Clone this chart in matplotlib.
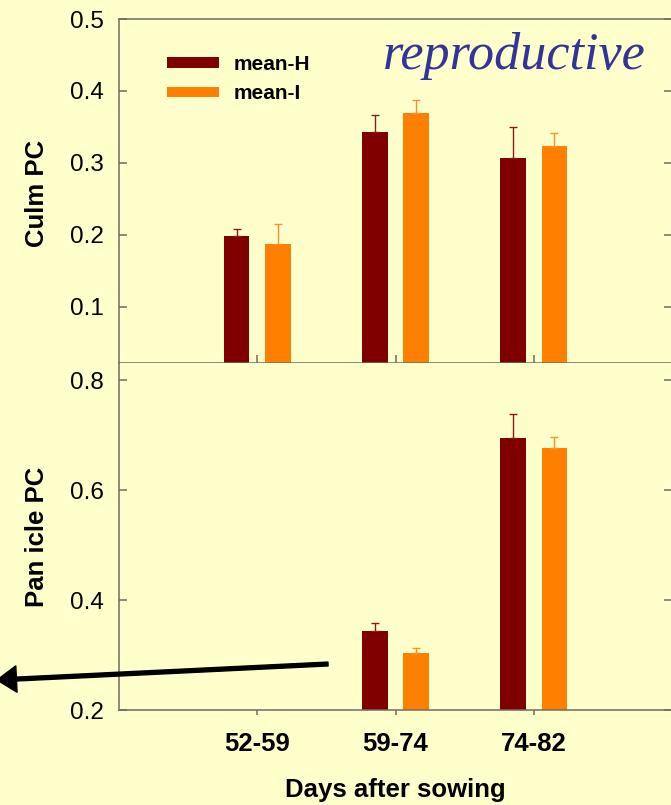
import numpy as np
import matplotlib
matplotlib.use("Agg")
import matplotlib.pyplot as plt

categories = ["52-59", "59-74", "74-82"]
series_names = ["mean-H", "mean-I"]
culm_H = [0.198, 0.343, 0.307]
culm_I = [0.187, 0.370, 0.323]
culm_H_err = [0.010, 0.024, 0.043]
culm_I_err = [0.028, 0.017, 0.018]
pan_H = [np.nan, 0.343, 0.694]
pan_I = [np.nan, 0.303, 0.677]
pan_H_err = [np.nan, 0.015, 0.044]
pan_I_err = [np.nan, 0.009, 0.019]
culm_ticks = [0.1, 0.2, 0.3, 0.4, 0.5]
pan_ticks = [0.2, 0.4, 0.6, 0.8]

BG = "#FFFFCC"
C_H = "#800000"
C_I = "#FF8000"
SPINE = "#6E6E60"

plt.rcParams["font.family"] = ["Liberation Sans", "DejaVu Sans"]

W, H = 671, 805
fig = plt.figure(figsize=(W / 100, H / 100), dpi=100, facecolor=BG)

def fx(px):
    return px / W

def fy(py):
    return 1 - py / H

left = fx(119)
width = fx(672) - left
ax1 = fig.add_axes([left, fy(363), width, fy(19) - fy(363)])
ax2 = fig.add_axes([left, fy(710), width, fy(363) - fy(710)])

x = np.arange(1, len(categories) + 1)
off = 0.15
bw = 0.186

def draw(ax, vH, vI, eH, eI):
    ax.set_facecolor(BG)
    bH = ax.bar(x - off, vH, bw, color=C_H, label=series_names[0], zorder=2)
    bI = ax.bar(x + off, vI, bw, color=C_I, label=series_names[1], zorder=2)
    ax.errorbar(x - off, vH, yerr=[np.zeros(len(x)), eH], fmt="none",
                ecolor="#8B1A1A", elinewidth=1.0, capsize=3.2, capthick=1.0, zorder=3)
    ax.errorbar(x + off, vI, yerr=[np.zeros(len(x)), eI], fmt="none",
                ecolor="#FF9020", elinewidth=1.0, capsize=3.2, capthick=1.0, zorder=3)
    ax.set_xlim(0, 4)
    for s in ax.spines.values():
        s.set_color(SPINE)
        s.set_linewidth(1.1)
    return bH, bI

bH, bI = draw(ax1, culm_H, culm_I, culm_H_err, culm_I_err)
draw(ax2, pan_H, pan_I, pan_H_err, pan_I_err)

ax1.set_ylim(0.022, 0.5)
ax1.set_yticks(culm_ticks)
ax1.set_yticklabels([f"{t:.1f}" for t in culm_ticks])
ax1.set_xticks(x)
ax1.set_xticklabels([])
ax1.tick_params(axis="x", direction="in", length=6, color=SPINE, width=1.1)
ax1.tick_params(axis="y", direction="in", length=6, color=SPINE, width=1.1,
                right=True, labelsize=17.5, pad=11)

ax2.set_ylim(0.2, 0.831)
ax2.set_yticks(pan_ticks)
ax2.set_yticklabels([f"{t:.1f}" for t in pan_ticks])
ax2.set_xticks(x)
ax2.set_xticklabels(categories, fontweight="bold", fontsize=18.5)
ax2.tick_params(axis="x", direction="out", length=3.5, color=SPINE, width=1.1, pad=12)
ax2.tick_params(axis="y", direction="in", length=6, color=SPINE, width=1.1,
                right=True, labelsize=17.5, pad=11)
ax2.spines["top"].set_visible(False)

fig.text(fx(37), fy(193), "Culm PC", rotation=90, ha="center", va="center",
         fontsize=18.5, fontweight="bold")
fig.text(fx(37), fy(537), "Pan icle PC", rotation=90, ha="center", va="center",
         fontsize=18.5, fontweight="bold")
fig.text(fx(395), fy(790), "Days after sowing", ha="center", va="center",
         fontsize=18.5, fontweight="bold")

fig.text(fx(514), fy(56), "reproductive", ha="center", va="center",
         fontsize=37.5, style="italic", color="#333399",
         family=["Liberation Serif", "DejaVu Serif"])

leg = ax1.legend(handles=[bH, bI], loc="upper left",
                 bbox_to_anchor=(fx(167), fy(55)), bbox_transform=fig.transFigure,
                 frameon=False, borderpad=0, borderaxespad=0,
                 handlelength=2.5, handleheight=0.42, handletextpad=0.7,
                 labelspacing=0.5, prop={"weight": "bold", "size": 15})

ax2.annotate("", xy=(fx(-3), fy(680)), xytext=(fx(328), fy(664)),
             xycoords="figure fraction", textcoords="figure fraction",
             arrowprops=dict(facecolor="black", edgecolor="black", width=2.8,
                             headwidth=19, headlength=14, shrink=0),
             annotation_clip=False, zorder=5)

fig.savefig("out.png", dpi=100, facecolor=BG)
